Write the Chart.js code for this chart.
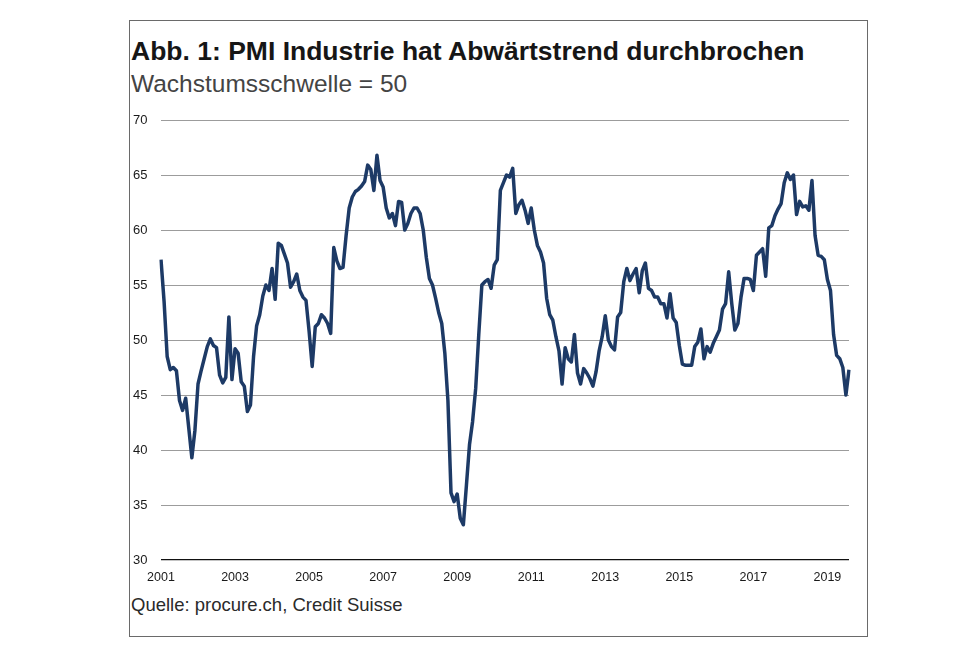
<!DOCTYPE html>
<html lang="de">
<head>
<meta charset="utf-8">
<script src="https://cdn.jsdelivr.net/npm/chart.js@4.4.1/dist/chart.umd.min.js"></script>
<style>
  body { margin: 0; background: #fff; font-family: "Liberation Sans", Arial, sans-serif; }
  #frame { position: absolute; left: 129px; top: 20px; width: 739px; height: 617px; border: 1px solid #6a6a6a; box-sizing: border-box; }
  .txt { position: absolute; line-height: 1; white-space: nowrap; }
  #title { left: 131px; top: 37.6px; font-size: 26.5px; font-weight: bold; color: #161616; }
  #subtitle { left: 131px; top: 72.3px; font-size: 24.5px; color: #444; }
  #source { left: 131px; top: 596.3px; font-size: 18.5px; color: #2a2a2a; }
  #chartBox { position: absolute; left: 130px; top: 100px; width: 730px; height: 490px; }
</style>
</head>
<body>
<div id="frame"></div>
<div class="txt" id="title">Abb. 1: PMI Industrie hat Abwärtstrend durchbrochen</div>
<div class="txt" id="subtitle">Wachstumsschwelle = 50</div>
<div class="txt" id="source">Quelle: procure.ch, Credit Suisse</div>
<div id="chartBox"><canvas id="pmiChart"></canvas></div>

<script>
// PMI Industrie Schweiz, monthly values (Jan 2001 - Aug 2019)
const pmi2001 = [57.3, 53.5, 48.5, 47.3, 47.5, 47.2, 44.5, 43.6, 44.7, 42.0, 39.3, 41.8];
const pmi2002 = [46.0, 47.2, 48.3, 49.4, 50.1, 49.5, 49.3, 46.8, 46.1, 46.6, 52.1, 46.4];
const pmi2003 = [49.2, 48.8, 46.2, 45.8, 43.5, 44.1, 48.5, 51.3, 52.3, 54.0, 55.0, 54.5];
const pmi2004 = [56.5, 53.7, 58.8, 58.6, 57.8, 57.0, 54.8, 55.3, 56.0, 54.5, 53.9, 53.6];
const pmi2005 = [50.8, 47.6, 51.2, 51.5, 52.3, 52.0, 51.5, 50.6, 58.4, 57.2, 56.5, 56.6];
const pmi2006 = [59.5, 62.0, 63.0, 63.5, 63.7, 64.0, 64.4, 65.9, 65.5, 63.6, 66.8, 64.5];
const pmi2007 = [63.9, 62.0, 61.1, 61.5, 60.4, 62.6, 62.5, 60.0, 60.6, 61.5, 62.0, 62.0];
const pmi2008 = [61.5, 60.0, 57.5, 55.6, 55.0, 53.8, 52.5, 51.5, 48.8, 44.5, 36.1, 35.3];
const pmi2009 = [36.0, 33.8, 33.2, 36.8, 40.5, 42.6, 45.6, 50.5, 55.0, 55.3, 55.5, 54.7];
const pmi2010 = [56.8, 57.3, 63.6, 64.3, 65.0, 64.8, 65.6, 61.5, 62.3, 62.7, 61.8, 60.6];
const pmi2011 = [62.0, 60.0, 58.6, 58.0, 57.0, 53.8, 52.3, 51.8, 50.3, 49.0, 46.0, 49.3];
const pmi2012 = [48.3, 48.0, 50.5, 47.0, 46.0, 47.4, 47.0, 46.5, 45.8, 47.1, 49.0, 50.3];
const pmi2013 = [52.2, 50.0, 49.4, 49.1, 52.1, 52.5, 55.3, 56.5, 55.4, 56.0, 56.5, 54.3];
const pmi2014 = [56.3, 57.0, 54.7, 54.5, 53.9, 53.9, 53.3, 53.3, 52.0, 54.2, 52.0, 51.6];
const pmi2015 = [49.5, 47.8, 47.7, 47.7, 47.7, 49.4, 49.8, 51.0, 48.3, 49.4, 48.9, 49.7];
const pmi2016 = [50.3, 50.9, 52.8, 53.3, 56.2, 53.3, 50.9, 51.5, 53.9, 55.6, 55.6, 55.5];
const pmi2017 = [54.5, 57.7, 58.0, 58.3, 55.8, 60.2, 60.4, 61.3, 61.9, 62.4, 64.3, 65.2];
const pmi2018 = [64.6, 65.0, 61.4, 62.6, 62.1, 62.2, 61.8, 64.5, 59.5, 57.7, 57.6, 57.3];
const pmi2019 = [55.5, 54.5, 50.5, 48.6, 48.3, 47.5, 45.0, 47.3];

const tickYears = ['2001', '2003', '2005', '2007', '2009', '2011', '2013', '2015', '2017', '2019'];
const yTicks = [30, 35, 40, 45, 50, 55, 60, 65, 70];

document.addEventListener('DOMContentLoaded', () => {
  const years = [pmi2001, pmi2002, pmi2003, pmi2004, pmi2005, pmi2006, pmi2007, pmi2008, pmi2009,
                 pmi2010, pmi2011, pmi2012, pmi2013, pmi2014, pmi2015, pmi2016, pmi2017, pmi2018, pmi2019];
  const labels = [];
  const values = [];
  years.forEach((arr, i) => {
    arr.forEach((v, m) => {
      labels.push((2001 + i) + '-' + String(m + 1).padStart(2, '0'));
      values.push(v);
    });
  });

  const ctx = document.getElementById('pmiChart').getContext('2d');

  new Chart(ctx, {
      type: 'line',
      data: {
          labels: labels,
          datasets: [{
              label: 'PMI Industrie',
              data: values,
              borderColor: '#1d3a66',
              backgroundColor: '#1d3a66',
              borderWidth: 3.5,
              borderJoinStyle: 'round',
              pointRadius: 0,
              tension: 0
          }]
      },
      options: {
          responsive: true,
          maintainAspectRatio: false,
          animation: false,
          layout: {
              padding: {top: 20, left: 3, right: 11, bottom: 0}
          },
          plugins: {
              legend: { display: false },
              tooltip: { enabled: false }
          },
          scales: {
              x: {
                  grid: { display: false, drawTicks: false },
                  border: { display: false },
                  afterFit: (scale) => { scale.height = 30; },
                  ticks: {
                      autoSkip: false,
                      maxRotation: 0,
                      minRotation: 0,
                      padding: 10,
                      color: '#1a1a1a',
                      font: { family: 'Liberation Sans', size: 12.5 },
                      callback: function (val) {
                          const lab = this.getLabelForValue(val);
                          const y = lab.slice(0, 4);
                          return (lab.endsWith('-01') && tickYears.includes(y)) ? y : null;
                      }
                  }
              },
              y: {
                  min: 30,
                  max: 70,
                  afterFit: (scale) => { scale.width = 28; },
                  afterBuildTicks: (scale) => { scale.ticks = yTicks.map(v => ({value: v})); },
                  grid: {
                      drawTicks: false,
                      color: (c) => c.tick && c.tick.value === 30 ? '#111' : '#9c9c9c',
                      lineWidth: (c) => c.tick && c.tick.value === 30 ? 1.3 : 1
                  },
                  border: { display: false },
                  ticks: {
                      crossAlign: 'far',
                      padding: 0,
                      color: '#1a1a1a',
                      font: { family: 'Liberation Sans', size: 13 }
                  }
              }
          }
      }
  });
});
</script>
</body>
</html>
